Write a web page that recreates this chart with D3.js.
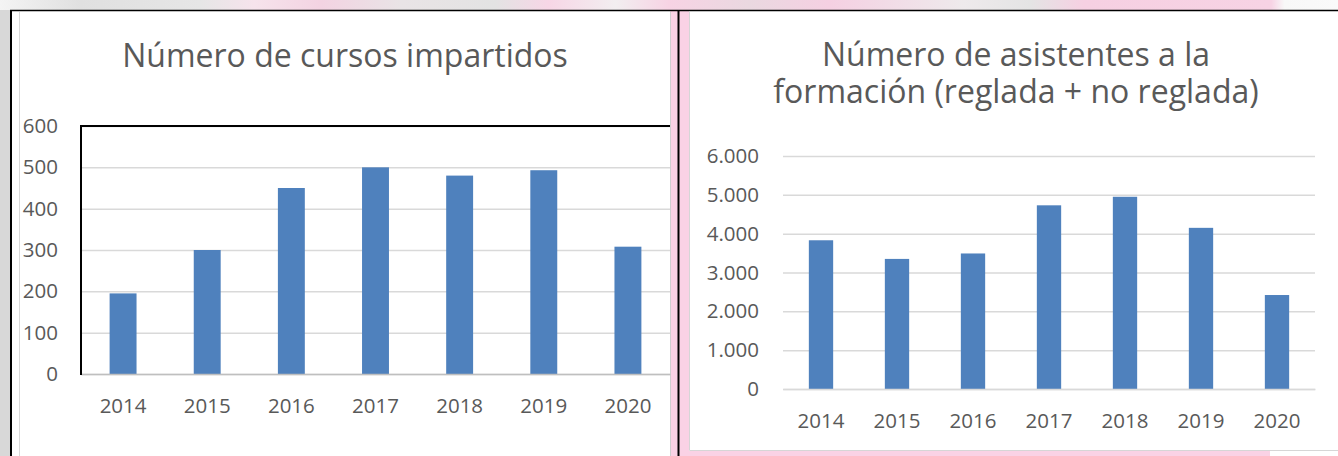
<!DOCTYPE html>
<html>
<head>
<meta charset="utf-8">
<script src="https://cdn.jsdelivr.net/npm/d3@7"></script>
<style>
  body { margin: 0; background: #fff; }
  svg text { font-family: "Open Sans", sans-serif; fill: #595959; }
</style>
</head>
<body>
<svg id="chart" width="1338" height="456"></svg>
<script>
// data
const years = ['2014', '2015', '2016', '2017', '2018', '2019', '2020']
const cursos = [195, 300, 450, 500, 480, 493, 308]
const asistentes = [3830, 3350, 3490, 4730, 4950, 4150, 2420]
const cursosTicks = [0, 100, 200, 300, 400, 500, 600]
const asistentesTicks = [0, 1000, 2000, 3000, 4000, 5000, 6000]
const titleLeft = ['Número de cursos impartidos']
const titleRight = ['Número de asistentes a la', 'formación (reglada + no reglada)']

const barColor = '#4f81bd'
const gridColor = '#d9d9d9'
const pink = '#fad2e5'

const svg = d3.select('#chart')

// faded picture behind the panels (only the top strip and left edge show)
const bgGrad = svg.append('defs').append('linearGradient')
  .attr('id', 'topfade').attr('x1', 0).attr('x2', 1).attr('y1', 0).attr('y2', 0)
const stops = [[0, '#f4f4f4'], [0.06, '#e0e0e0'], [0.15, '#e6e6e6'], [0.19, '#f6e3ec'],
  [0.24, '#f3d3e2'], [0.3, '#e9e4e6'], [0.37, '#e3e3e3'], [0.41, '#f7d6e6'],
  [0.46, '#f2eef0'], [0.5, '#f7d3e4'], [0.56, '#ead8e0'], [0.62, '#f5d0e2'],
  [0.72, '#eeeaec'], [0.77, '#e4e4e4'], [0.81, '#f6d0e2'], [0.95, '#f7d3e4'], [0.96, '#f8f8f8'], [1, '#fafafa']]
stops.forEach(s => bgGrad.append('stop').attr('offset', s[0]).attr('stop-color', s[1]))
svg.append('rect').attr('x', 0).attr('y', 0).attr('width', 1338).attr('height', 10).attr('fill', 'url(#topfade)')
svg.append('rect').attr('x', 0).attr('y', 10).attr('width', 10).attr('height', 446).attr('fill', '#d8d8d8')

// gap between panels + frame of right panel
svg.append('rect').attr('x', 670).attr('y', 10).attr('width', 20).attr('height', 446).attr('fill', pink)
svg.append('rect').attr('x', 689).attr('y', 451).attr('width', 581).attr('height', 5).attr('fill', pink)

// left panel
svg.append('rect').attr('x', 12).attr('y', 11).attr('width', 658).attr('height', 445)
  .attr('fill', '#fff')
svg.append('line').attr('x1', 19.5).attr('x2', 19.5).attr('y1', 12).attr('y2', 456)
  .attr('stroke', '#d9d9d9')
svg.append('line').attr('x1', 670.5).attr('x2', 670.5).attr('y1', 12).attr('y2', 456)
  .attr('stroke', '#d0d0d0')

// right panel
svg.append('rect').attr('x', 689).attr('y', 11).attr('width', 649).attr('height', 440)
  .attr('fill', '#fff')
svg.append('path').attr('d', 'M689.5,12V450.5H1338')
  .attr('fill', 'none').attr('stroke', '#d6d6d6')

// black table lines
svg.append('line').attr('x1', 10).attr('x2', 1338).attr('y1', 10.5).attr('y2', 10.5)
  .attr('stroke', '#000').attr('stroke-width', 1.5)
svg.append('line').attr('x1', 11).attr('x2', 11).attr('y1', 10).attr('y2', 456)
  .attr('stroke', '#000').attr('stroke-width', 2)
svg.append('line').attr('x1', 678.5).attr('x2', 678.5).attr('y1', 10).attr('y2', 456)
  .attr('stroke', '#000').attr('stroke-width', 2)

function drawChart(cfg) {
  const g = svg.append('g')

  const x = d3.scaleBand()
    .domain(years)
    .range([cfg.left, cfg.right])
    .paddingInner(0.68)
    .paddingOuter(0.34)

  const y = d3.scaleLinear()
    .domain([0, d3.max(cfg.ticks)])
    .range([cfg.bottom, cfg.top])

  // gridlines
  const grid = g.append('g')
    .attr('transform', `translate(${cfg.left},0)`)
    .call(d3.axisLeft(y).tickValues(cfg.ticks).tickSize(-(cfg.right - cfg.left)).tickFormat(''))
  grid.select('.domain').remove()
  grid.selectAll('.tick line').attr('stroke', gridColor).attr('stroke-width', 1.5)

  // y labels
  const yAxis = g.append('g')
    .attr('transform', `translate(${cfg.left - cfg.labelGap},0)`)
    .call(d3.axisLeft(y).tickValues(cfg.ticks).tickSize(0).tickPadding(0).tickFormat(cfg.fmt))
  yAxis.select('.domain').remove()
  yAxis.selectAll('text').attr('font-size', 20.5).attr('font-family', null).attr('fill', '#595959')

  // bars
  g.selectAll('rect.bar')
    .data(cfg.values)
    .enter()
    .append('rect')
    .attr('class', 'bar')
    .attr('x', (d, i) => x(years[i]))
    .attr('y', d => y(d))
    .attr('width', x.bandwidth())
    .attr('height', d => y(0) - y(d))
    .attr('fill', barColor)

  // x axis
  const xAxis = g.append('g')
    .attr('transform', `translate(0,${cfg.bottom})`)
    .call(d3.axisBottom(x).tickSize(0))
  xAxis.select('.domain').attr('stroke', cfg.axisColor).attr('stroke-width', 1.5)
  xAxis.selectAll('text')
    .attr('font-size', 20.5).attr('font-family', null).attr('fill', '#595959')
    .attr('dy', null).attr('y', cfg.xLabelY)

  // title
  g.selectAll('text.title')
    .data(cfg.title)
    .enter()
    .append('text')
    .attr('class', 'title')
    .attr('x', cfg.titleX)
    .attr('y', (d, i) => cfg.titleY + i * 37)
    .attr('text-anchor', 'middle')
    .attr('font-size', 32)
    .text(d => d)

  return { g, x, y }
}

const left = drawChart({
  values: cursos, ticks: cursosTicks, title: titleLeft,
  left: 81, right: 670, top: 126, bottom: 374,
  labelGap: 23, xLabelY: 39, axisColor: '#bfbfbf',
  titleX: 345, titleY: 67,
  fmt: d3.format('d')
})

// black frame of the left plot area
left.g.append('path')
  .attr('d', `M81,${left.y(0) + 1}V${left.y(600)}H670`)
  .attr('fill', 'none').attr('stroke', '#000').attr('stroke-width', 2)

const dotFmt = d => d3.format(',')(d).replace(/,/g, '.')
drawChart({
  values: asistentes, ticks: asistentesTicks, title: titleRight,
  left: 783, right: 1315, top: 156, bottom: 389,
  labelGap: 24, xLabelY: 39, axisColor: gridColor,
  titleX: 1016, titleY: 66,
  fmt: dotFmt
})
</script>
</body>
</html>
